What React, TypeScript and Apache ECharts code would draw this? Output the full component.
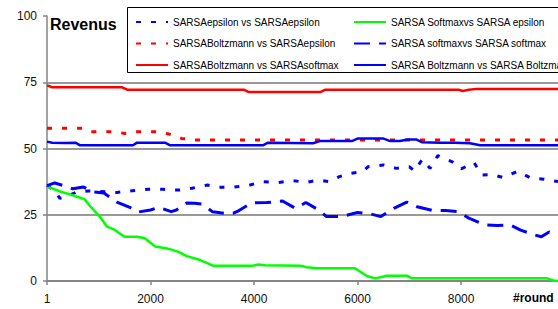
import React, { useEffect, useRef } from "react";
import * as echarts from "echarts";

const FONT = "'Liberation Sans', Arial, sans-serif";

const yTicks = [0, 25, 50, 75, 100];
const xTickStep = 2000;
const roundMax = 9872;

const names = [
  "SARSAepsilon vs SARSAepsilon",
  "SARSABoltzmann vs SARSAepsilon",
  "SARSABoltzmann vs SARSAsoftmax",
  "SARSA Softmaxvs SARSA epsilon",
  "SARSA softmaxvs SARSA softmax",
  "SARSA Boltzmann vs SARSA Boltzmann",
];

const epsEpsRounds = [1,150,250,400,550,800,1000,1350,1650,1950,2250,2550,2800,3100,3300,3600,3900,4150,4450,4750,5000,5250,5450,5650,5850,6100,6200,6500,6750,7000,7100,7250,7400,7550,7850,8000,8250,8400,8600,8800,9100,9350,9600,9872];
const epsEpsValues = [36,34,31.2,32,33.4,34,33.8,33.4,34.1,34.6,34.6,34.3,35.0,36.2,35.4,35.4,36.1,37.5,37.1,37.9,37.2,38.1,37.5,39.4,40.6,41.3,43.1,43.8,42.5,43.1,41.5,45.9,42.5,47.3,44.8,42.3,44.7,40,40.2,39.1,41.4,38.8,38.4,37.5];

const boltzEpsRounds = [1,700,850,1300,1500,1700,2150,2350,2600,2850,9872];
const boltzEpsValues = [57.6,57.6,56.3,56.3,55.7,56.3,56.3,55.5,53.8,53.2,53.2];

const boltzSoftRounds = [1,100,1450,1550,3800,3900,5280,5380,7950,8030,8150,8300,9872];
const boltzSoftValues = [73.8,73.1,73.1,72.2,72.2,71.3,71.3,72.2,72.2,71.7,72.2,72.5,72.5];

const softEpsRounds = [1,300,480,580,730,830,1020,1160,1280,1500,1740,1890,2090,2320,2530,2700,2960,3210,3980,4080,4210,4890,5020,5220,5950,6180,6340,6570,6950,7050,9660,9780,9872];
const softEpsValues = [35.6,33.5,32.5,31.8,30.8,28.3,24.3,20.5,19.6,16.7,16.7,16.1,13,12.3,11.1,9.4,7.9,5.8,5.8,6.2,5.9,5.8,5.2,4.8,4.8,1.9,1.0,2.0,2.0,1.0,1.0,0.2,0];

const softSoftRounds = [1,150,350,500,700,900,1100,1350,1600,1750,2000,2150,2400,2500,2700,2850,3000,3200,3450,3600,3700,3950,4250,4550,4800,5000,5250,5400,5700,6000,6250,6450,6700,6950,7150,7450,7700,7950,8150,8450,8700,8950,9150,9400,9550,9700,9872];
const softSoftValues = [36,37,35.8,34.8,35.5,33.6,33.2,29.8,27.8,26.0,26.8,27.8,26.2,26.8,29.4,29.3,29.0,26.1,25.5,25.6,26.5,29.5,29.6,30.2,27.4,29.6,26.8,24.3,24.3,25.9,25.3,24.3,27.4,29.8,28,26.6,26.6,26.2,23.7,21.2,20.9,21.1,19.2,17.5,16.7,18.5,17.4];

const boltzBoltzRounds = [1,100,350,550,640,1660,1740,2280,2380,4170,4270,5140,5270,5890,6010,6490,6630,6820,6970,7130,7240,7590,7880,8170,8370,9872];
const boltzBoltzValues = [52.6,52.2,52.1,52.2,51.2,51.2,52.2,52.2,51.2,51.2,52.2,52.0,52.8,52.8,53.8,53.8,52.8,52.8,53.4,53.4,52.4,52.2,52.2,52.0,51.2,51.2];

const zip = (xs: number[], ys: number[]) => xs.map((x, i) => [x, ys[i]]);

export default function App() {
  const ref = useRef<HTMLDivElement>(null);
  useEffect(() => {
    if (!ref.current) return;
    const chart = echarts.init(ref.current, undefined, { renderer: "svg" });
    const mk = (name: string, xs: number[], ys: number[], color: string, type: any, width: number) => ({
      name,
      type: "line",
      data: zip(xs, ys),
      showSymbol: false,
      symbol: "none",
      lineStyle: { color, type, width, cap: "butt" },
      itemStyle: { color },
      emphasis: { disabled: true },
    });
    const legendCommon = {
      orient: "vertical",
      top: 12,
      itemWidth: 32,
      itemHeight: 10,
      itemGap: 11.5,
      itemStyle: { opacity: 0, borderWidth: 0 },
      textStyle: { fontFamily: FONT, fontSize: 10, color: "#000" },
      selectedMode: false,
    };
    chart.setOption({
      animation: false,
      grid: { left: 47, top: 16, right: 0, bottom: 28 },
      xAxis: {
        type: "value",
        min: 0,
        max: roundMax,
        interval: xTickStep,
        axisLine: { show: true, lineStyle: { color: "#858585", width: 2 } },
        axisTick: { show: true, inside: false, length: 4, lineStyle: { color: "#858585", width: 1.5 } },
        axisLabel: {
          showMaxLabel: false,
          margin: 12,
          fontFamily: FONT,
          fontSize: 12,
          color: "#111",
          formatter: (v: number) => (v === 0 ? "1" : v % xTickStep === 0 ? String(v) : ""),
        },
        splitLine: { show: false },
      },
      yAxis: {
        type: "value",
        min: yTicks[0],
        max: yTicks[yTicks.length - 1],
        interval: 25,
        axisLine: { show: true, lineStyle: { color: "#858585", width: 1.5 } },
        axisTick: { show: true, inside: false, length: 4, lineStyle: { color: "#858585", width: 1.5 } },
        axisLabel: { margin: 10, fontFamily: FONT, fontSize: 12, color: "#111" },
        splitLine: {
          show: true,
          lineStyle: { color: ["#999999", "#999999", "#999999", "#999999", "rgba(0,0,0,0)"], width: 2 },
        },
      },
      legend: [
        { ...legendCommon, left: 130, data: [names[0], names[1], names[2]] },
        { ...legendCommon, left: 348, data: [names[3], names[4], names[5]] },
      ],
      graphic: [
        {
          type: "rect",
          z: 1,
          shape: { x: 127.5, y: 7.5, width: 440, height: 65 },
          style: { fill: "#fff", stroke: "#000", lineWidth: 1 },
        },
        {
          type: "text",
          left: 50,
          top: 16,
          style: { text: "Revenus", font: `bold 16px ${FONT}`, fill: "#000" },
        },
        {
          type: "text",
          left: 513,
          top: 292,
          style: { text: "#round", font: `bold 12px ${FONT}`, fill: "#000" },
        },
      ],
      series: [
        mk(names[0], epsEpsRounds, epsEpsValues, "#0000ff", [5, 10], 3),
        mk(names[1], boltzEpsRounds, boltzEpsValues, "#ff0000", [5, 10], 3),
        mk(names[2], boltzSoftRounds, boltzSoftValues, "#ff0000", "solid", 2.5),
        mk(names[3], softEpsRounds, softEpsValues, "#00ff00", "solid", 2.5),
        mk(names[4], softSoftRounds, softSoftValues, "#0000ff", [16, 9], 3),
        mk(names[5], boltzBoltzRounds, boltzBoltzValues, "#0000ff", "solid", 2.5),
      ],
    });
    return () => chart.dispose();
  }, []);
  return <div ref={ref} style={{ position: "fixed", left: 0, top: 0, width: 558, height: 309, background: "#fff" }} />;
}
